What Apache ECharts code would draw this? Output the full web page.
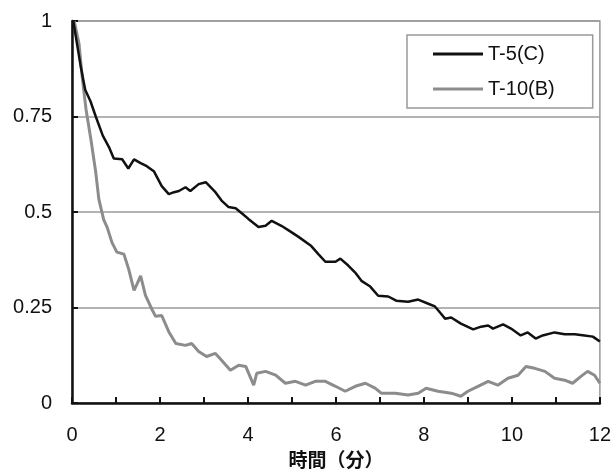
<!DOCTYPE html>
<html>
<head>
<meta charset="utf-8">
<script src="https://cdn.jsdelivr.net/npm/echarts@6/dist/echarts.min.js"></script>
<style>
  html, body { margin: 0; padding: 0; background: #fff; }
  #chart { width: 614px; height: 474px; }
</style>
</head>
<body>
<div id="chart"></div>
<script>
// 時間(分) vs 相対値, 読み取り値
const seriesNames = ['T-5(C)', 'T-10(B)'];
const xTicks = [0, 2, 4, 6, 8, 10, 12];
const yTicks = [0, 0.25, 0.5, 0.75, 1];

const t5c = [
  [0.03, 1.0], [0.1, 0.95], [0.2, 0.88], [0.3, 0.82], [0.34, 0.815], [0.42, 0.79],
  [0.54, 0.75], [0.7, 0.7], [0.84, 0.67], [0.95, 0.64], [1.14, 0.638], [1.28, 0.614],
  [1.41, 0.638], [1.56, 0.628], [1.7, 0.62], [1.86, 0.607], [2.04, 0.568], [2.2, 0.547],
  [2.32, 0.552], [2.43, 0.555], [2.58, 0.565], [2.69, 0.555], [2.88, 0.573], [3.04, 0.578],
  [3.26, 0.552], [3.4, 0.53], [3.56, 0.513], [3.72, 0.51], [3.88, 0.495], [4.01, 0.482],
  [4.24, 0.461], [4.4, 0.464], [4.54, 0.477], [4.76, 0.464], [4.95, 0.45], [5.15, 0.435],
  [5.44, 0.411], [5.6, 0.39], [5.76, 0.37], [5.99, 0.37], [6.1, 0.378], [6.28, 0.36],
  [6.45, 0.34], [6.58, 0.32], [6.78, 0.305], [6.96, 0.281], [7.19, 0.279], [7.37, 0.268],
  [7.64, 0.265], [7.87, 0.271], [8.1, 0.26], [8.25, 0.253], [8.38, 0.235], [8.48, 0.221],
  [8.62, 0.224], [8.84, 0.208], [9.12, 0.193], [9.3, 0.2], [9.46, 0.203], [9.57, 0.195],
  [9.8, 0.206], [9.98, 0.195], [10.2, 0.177], [10.36, 0.185], [10.54, 0.169], [10.7, 0.177],
  [10.97, 0.185], [11.2, 0.18], [11.43, 0.18], [11.65, 0.177], [11.84, 0.174], [12.0, 0.161]
];

const t10b = [
  [0.05, 1.0], [0.16, 0.94], [0.23, 0.855], [0.32, 0.768], [0.43, 0.69], [0.54, 0.604],
  [0.61, 0.534], [0.72, 0.48], [0.8, 0.46], [0.91, 0.42], [1.02, 0.395], [1.18, 0.39],
  [1.29, 0.35], [1.41, 0.295], [1.48, 0.312], [1.56, 0.333], [1.67, 0.282], [1.81, 0.247],
  [1.9, 0.227], [2.04, 0.229], [2.2, 0.187], [2.36, 0.156], [2.58, 0.151], [2.72, 0.156],
  [2.88, 0.135], [3.06, 0.122], [3.26, 0.13], [3.4, 0.112], [3.6, 0.086], [3.79, 0.099],
  [3.95, 0.096], [4.13, 0.047], [4.2, 0.078], [4.4, 0.083], [4.63, 0.073], [4.85, 0.052],
  [5.08, 0.057], [5.31, 0.047], [5.53, 0.057], [5.76, 0.057], [5.99, 0.044], [6.21, 0.031],
  [6.44, 0.044], [6.67, 0.052], [6.89, 0.039], [7.03, 0.026], [7.35, 0.026], [7.64, 0.021],
  [7.87, 0.026], [8.05, 0.039], [8.32, 0.031], [8.62, 0.026], [8.84, 0.018], [9.0, 0.031],
  [9.23, 0.044], [9.46, 0.057], [9.68, 0.047], [9.91, 0.065], [10.14, 0.073], [10.32, 0.096],
  [10.52, 0.091], [10.75, 0.083], [10.97, 0.065], [11.2, 0.06], [11.38, 0.052], [11.57, 0.07],
  [11.72, 0.083], [11.88, 0.073], [12.0, 0.052]
];

const chart = echarts.init(document.getElementById('chart'), null, { renderer: 'canvas' });

const option = {
  animation: false,
  backgroundColor: '#fff',
  textStyle: { fontFamily: 'Liberation Sans, Arial, sans-serif', color: '#111' },
  grid: {
    left: 72, right: 12, top: 21, bottom: 69,
    show: true, borderColor: '#9a9a9a', borderWidth: 1.5
  },
  legend: {
    orient: 'vertical',
    left: 407, top: 35,
    padding: [9, 38, 9, 26],
    itemGap: 15,
    itemWidth: 50,
    itemHeight: 3,
    borderColor: '#999',
    borderWidth: 1.5,
    textStyle: { fontSize: 20, color: '#111', fontFamily: 'Liberation Sans, Arial, sans-serif' },
    data: [
      { name: seriesNames[0], icon: 'rect' },
      { name: seriesNames[1], icon: 'rect' }
    ]
  },
  xAxis: {
    type: 'value',
    min: 0, max: 12, interval: 1,
    name: '時間（分）',
    nameLocation: 'middle',
    nameGap: 39,
    nameTextStyle: { fontSize: 19, fontWeight: 'bold', color: '#111', fontFamily: 'Noto Sans CJK JP' },
    axisLine: { show: true, lineStyle: { color: '#111', width: 2.5 } },
    axisTick: { show: true, inside: true, length: 6, lineStyle: { color: '#111', width: 2 } },
    axisLabel: {
      fontSize: 20, color: '#111', margin: 22,
      formatter: v => (xTicks.indexOf(v) >= 0 ? String(v) : '')
    },
    splitLine: { show: false }
  },
  yAxis: {
    type: 'value',
    min: 0, max: 1, interval: 0.25,
    axisLine: { show: true, lineStyle: { color: '#111', width: 2.5 } },
    axisTick: { show: true, inside: true, length: 6, lineStyle: { color: '#111', width: 2 } },
    axisLabel: {
      fontSize: 20, color: '#111', margin: 20,
      formatter: v => (yTicks.indexOf(v) >= 0 ? String(v) : '')
    },
    splitLine: { show: true, lineStyle: { color: '#9a9a9a', width: 1.5 } }
  },
  series: [
    {
      name: seriesNames[0],
      type: 'line',
      data: t5c,
      symbol: 'none',
      z: 3,
      lineStyle: { color: '#111', width: 2.5 },
      itemStyle: { color: '#111' }
    },
    {
      name: seriesNames[1],
      type: 'line',
      data: t10b,
      symbol: 'none',
      z: 2,
      lineStyle: { color: '#8c8c8c', width: 3 },
      itemStyle: { color: '#8c8c8c' }
    }
  ]
};

chart.setOption(option);
</script>
</body>
</html>
